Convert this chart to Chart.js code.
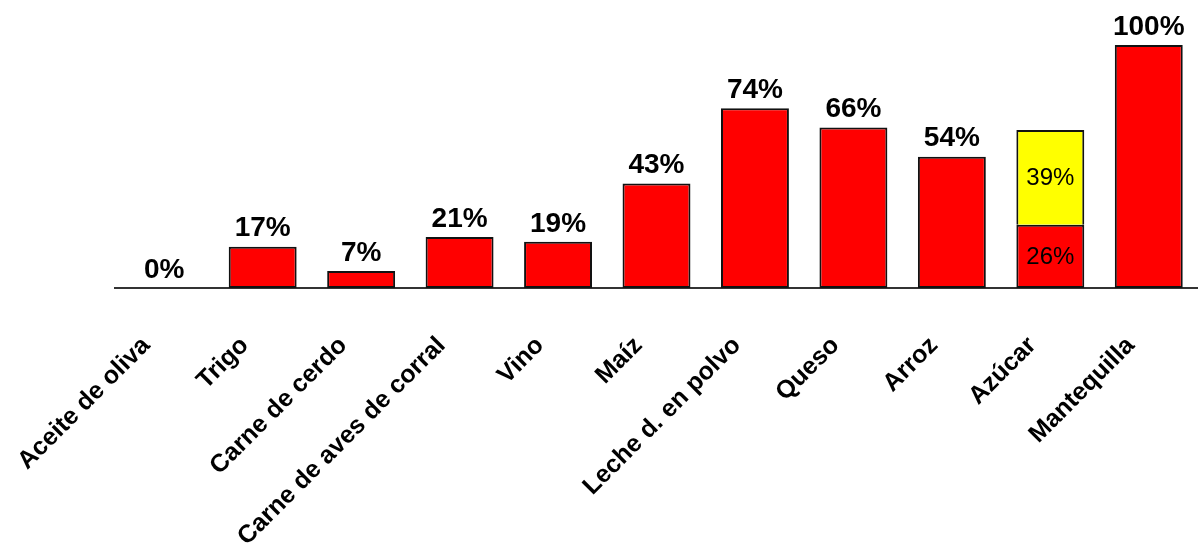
<!DOCTYPE html>
<html>
<head>
<meta charset="utf-8">
<script src="https://cdn.jsdelivr.net/npm/chart.js@4/dist/chart.umd.min.js"></script>
<style>
  html, body { margin: 0; padding: 0; background: #fff; }
  #wrap { width: 1198px; height: 556px; position: relative; }
</style>
</head>
<body>
<div id="wrap"><canvas id="c" width="1198" height="556"></canvas></div>
<script>
const categories = ["Aceite de oliva", "Trigo", "Carne de cerdo", "Carne de aves de corral", "Vino", "Maíz", "Leche d. en polvo", "Queso", "Arroz", "Azúcar", "Mantequilla"];
const redValues = [0, 17, 7, 21, 19, 43, 74, 66, 54, 26, 100];
const yellowValues = [null, null, null, null, null, null, null, null, null, 39, null];
const yMin = 0;
const yMax = 100;

const labelPlugin = {
  id: 'valueLabels',
  afterDatasetsDraw(chart) {
    const ctx = chart.ctx;
    ctx.save();
    ctx.fillStyle = '#000';
    ctx.textAlign = 'center';
    chart.data.datasets.forEach((ds, di) => {
      const meta = chart.getDatasetMeta(di);
      meta.data.forEach((bar, i) => {
        const v = ds.data[i];
        if (v === null || v === undefined) return;
        const inside = yellowValues[i] !== null && yellowValues[i] !== undefined;
        if (inside) {
          ctx.font = 'normal 24px "Liberation Sans", Arial, sans-serif';
          ctx.textBaseline = 'middle';
          ctx.fillText(v + '%', bar.x, (bar.y + bar.base) / 2 + 1);
        } else {
          ctx.font = 'bold 28px "Liberation Sans", Arial, sans-serif';
          ctx.textBaseline = 'bottom';
          ctx.fillText(v + '%', bar.x, bar.y - 4);
        }
      });
    });
    ctx.restore();
  }
};

new Chart(document.getElementById('c'), {
  type: 'bar',
  data: {
    labels: categories,
    datasets: [
      {
        data: redValues,
        backgroundColor: '#ff0000',
        borderColor: '#111111',
        borderWidth: 2,
        borderSkipped: false,
        barPercentage: 0.69,
        categoryPercentage: 1.0
      },
      {
        data: yellowValues,
        backgroundColor: '#ffff00',
        borderColor: '#111111',
        borderWidth: 2,
        borderSkipped: 'start',
        barPercentage: 0.69,
        categoryPercentage: 1.0
      }
    ]
  },
  options: {
    responsive: false,
    animation: false,
    events: [],
    layout: { padding: { left: 115, right: 0, top: 45, bottom: 0 } },
    plugins: { legend: { display: false }, tooltip: { enabled: false } },
    scales: {
      x: {
        stacked: true,
        grid: { display: false, drawTicks: false },
        border: { display: true, color: '#333', width: 2 },
        ticks: {
          color: '#000',
          font: { family: '"Liberation Sans", Arial, sans-serif', size: 25, weight: 'bold' },
          minRotation: 45,
          maxRotation: 45,
          autoSkip: false,
          padding: 43,
          labelOffset: -18
        },
        afterFit(scale) {
          scale.height = 268;
          scale.paddingLeft = 0;
          scale.paddingRight = 0;
        }
      },
      y: {
        stacked: true,
        display: false,
        min: yMin,
        max: yMax
      }
    }
  },
  plugins: [labelPlugin]
});
</script>
</body>
</html>
